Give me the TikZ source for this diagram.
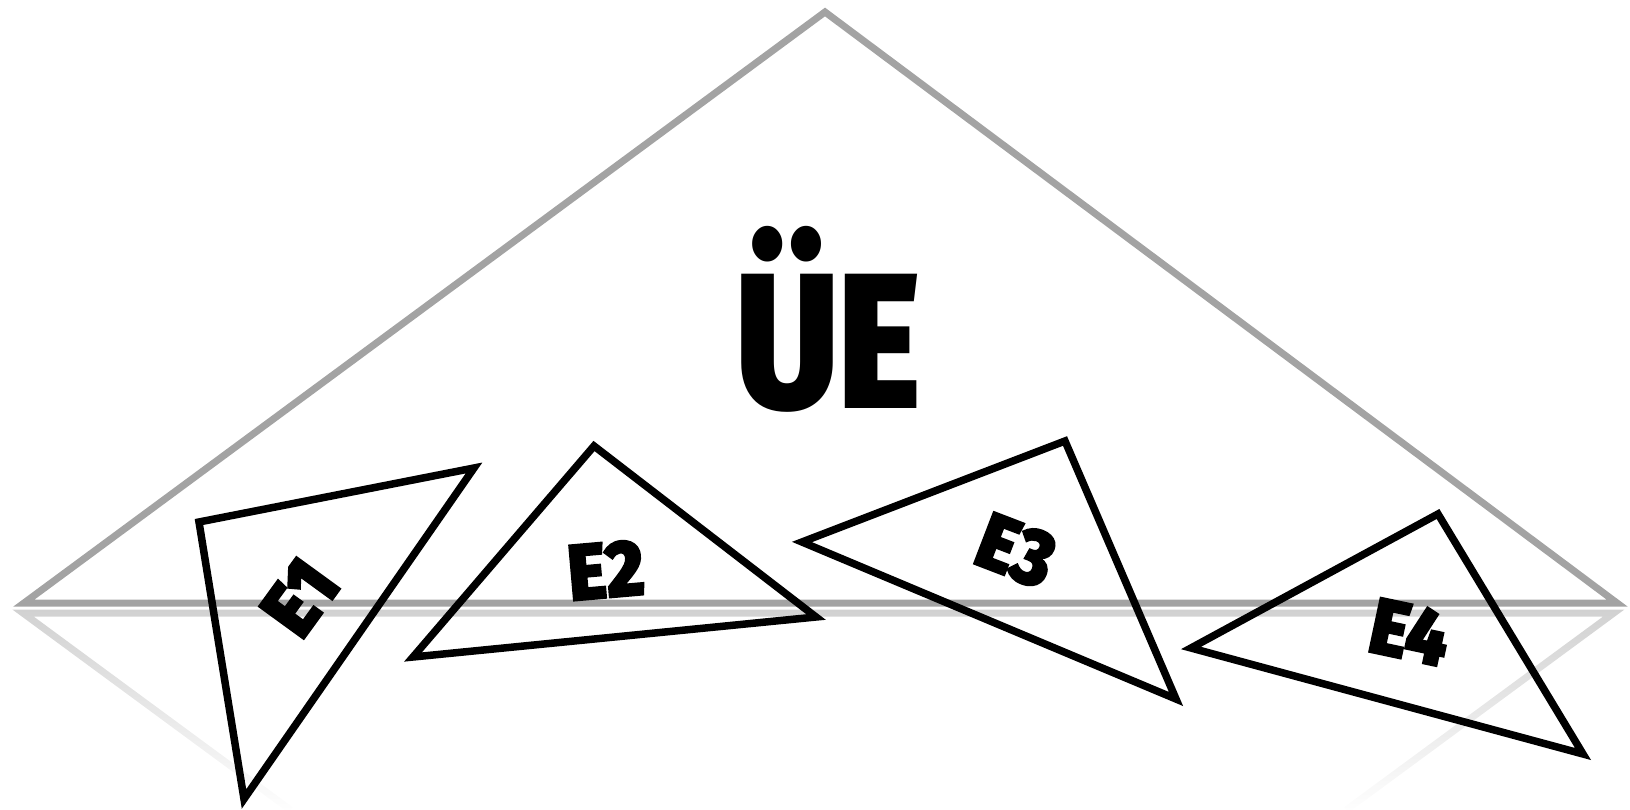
\documentclass[tikz,border=0pt]{standalone}
\usepackage{fontspec}
\newfontfamily\heavyfont{Fira Sans}[UprightFont={* Black}, FakeStretch=0.82]
\newfontfamily\tagfont{Fira Sans}[UprightFont={* Black}, FakeStretch=0.9, FakeBold=2]
\usetikzlibrary{fadings}
\definecolor{ridge}{RGB}{163,163,163}

\begin{document}
\begin{tikzpicture}[x=1pt,y=-1pt,
  shard/.style={draw=black, line width=7.5pt, line join=miter},
  tag/.style={font=\tagfont\fontsize{80}{80}\selectfont, inner sep=0pt}]
\useasboundingbox (0,0) rectangle (1630,810);
% big triangle and its faded mirror image
\coordinate (apex) at (825,12);
\coordinate (bl) at (24,603);
\coordinate (br) at (1617,603);
\coordinate (ml) at (24,613);
\coordinate (mr) at (1617,613);
\coordinate (ml2) at (292,810);
\coordinate (mr2) at (1349,810);
\draw[ridge!50, line width=7pt, line join=miter, path fading=south] (ml2) -- (ml) -- (mr) -- (mr2);
\draw[ridge, line width=7pt, line join=miter] (bl) -- (apex) -- (br) -- cycle;
\node[font=\heavyfont\fontsize{193}{193}\selectfont, anchor=base, inner sep=0pt] (title) at (829,408) {ÜE};
% the four small pieces
\coordinate (a1) at (199,522);
\coordinate (b1) at (474,468);
\coordinate (c1) at (244,799);
\draw[shard] (a1) -- (b1) -- (c1) -- cycle;
\coordinate (a2) at (594,446);
\coordinate (b2) at (816,617);
\coordinate (c2) at (413,657);
\draw[shard] (a2) -- (b2) -- (c2) -- cycle;
\coordinate (a3) at (802,542);
\coordinate (b3) at (1065,441);
\coordinate (c3) at (1176,699);
\draw[shard] (a3) -- (b3) -- (c3) -- cycle;
\coordinate (a4) at (1191,648);
\coordinate (b4) at (1438,514);
\coordinate (c4) at (1583,754);
\draw[shard] (a4) -- (b4) -- (c4) -- cycle;
\node[tag, rotate=54] (e1) at (300,597) {E1};
\node[tag, rotate=5] (e2) at (606,570) {E2};
\node[tag, rotate=-21] (e3) at (1016,551) {E3};
\node[tag, rotate=-12] (e4) at (1410,632) {E4};
\end{tikzpicture}
\end{document}
